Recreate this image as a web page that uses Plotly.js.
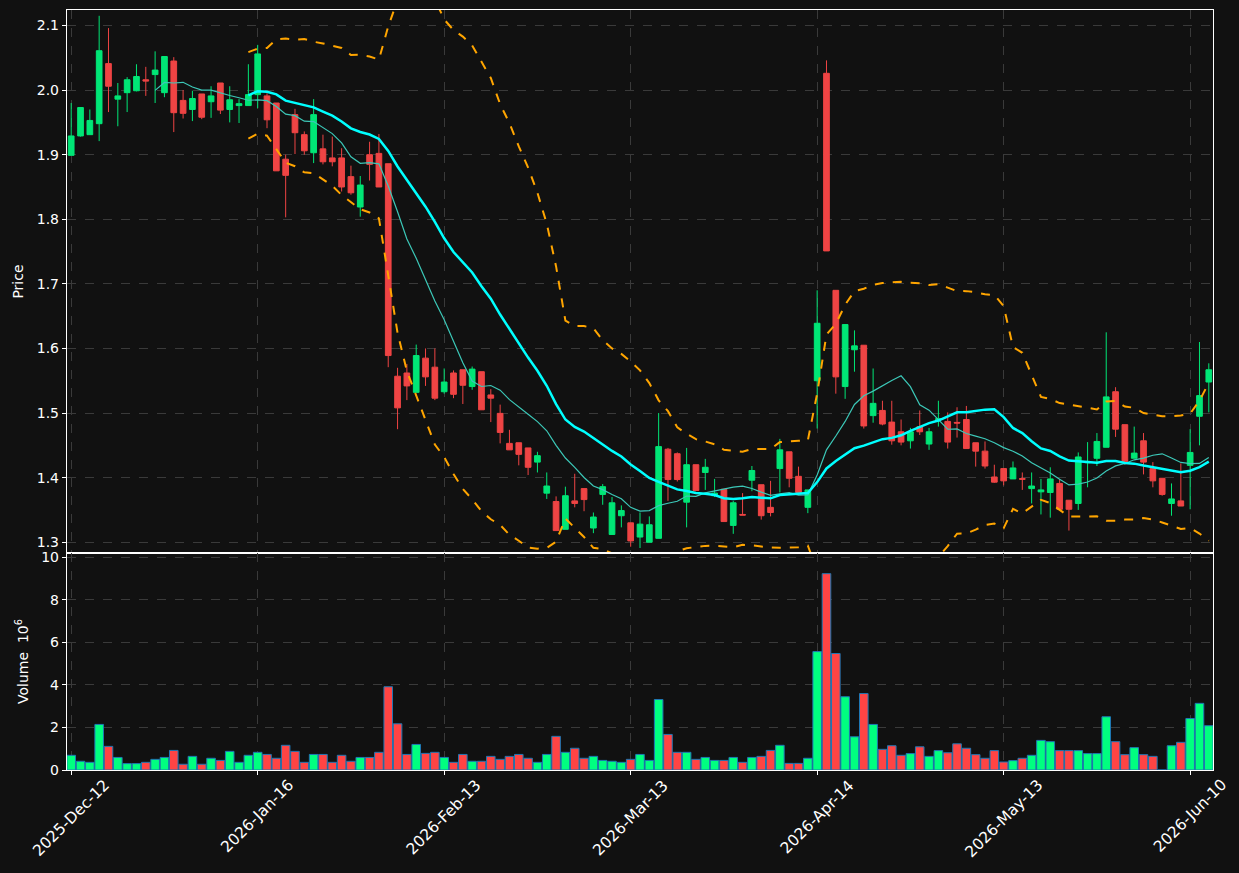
<!DOCTYPE html>
<html>
<head>
<meta charset="utf-8">
<script src="https://cdn.plot.ly/plotly-3.0.1.min.js"></script>
<style>
  html, body { margin: 0; padding: 0; background: #111111; }
  #chart { width: 1239px; height: 873px; }
</style>
</head>
<body>
<div id="chart"></div>
<script>
// ---- Data ----
const openP = [1.899,1.929,1.931,1.948,2.041,1.986,1.996,1.999,2.016,2.024,
  1.996,2.045,1.984,1.970,1.994,1.982,2.011,1.970,1.976,1.976,
  1.993,1.991,1.980,1.893,1.962,1.931,1.903,1.909,1.895,1.895,
  1.866,1.819,1.900,1.902,1.886,1.557,1.562,1.532,1.585,1.571,
  1.533,1.562,1.567,1.541,1.564,1.528,1.4995,1.453,1.454,1.446,
  1.424,1.376,1.363,1.320,1.364,1.383,1.322,1.374,1.312,1.341,
  1.330,1.308,1.300,1.306,1.444,1.437,1.362,1.420,1.408,1.372,
  1.382,1.326,1.343,1.396,1.389,1.354,1.414,1.440,1.402,1.354,
  1.550,2.026,1.690,1.541,1.598,1.605,1.496,1.504,1.486,1.471,
  1.457,1.479,1.452,1.490,1.487,1.4855,1.490,1.454,1.441,1.401,
  1.414,1.398,1.3985,1.383,1.378,1.377,1.391,1.365,1.360,1.423,
  1.430,1.447,1.533,1.482,1.430,1.457,1.414,1.399,1.360,1.364,
  1.419,1.495,1.548];
const highP = [1.980,1.973,1.970,2.115,2.096,2.011,2.020,2.040,2.036,2.060,
  2.052,2.051,2.000,1.999,1.994,2.006,2.011,2.006,1.986,2.040,
  2.070,1.995,1.980,1.900,1.971,1.936,1.986,1.931,1.928,1.910,
  1.883,1.867,1.920,1.932,1.886,1.570,1.576,1.606,1.600,1.600,
  1.569,1.566,1.567,1.572,1.564,1.537,1.513,1.474,1.454,1.446,
  1.440,1.408,1.371,1.386,1.406,1.383,1.346,1.390,1.370,1.357,
  1.330,1.346,1.340,1.500,1.446,1.439,1.446,1.420,1.429,1.398,
  1.382,1.364,1.376,1.418,1.389,1.395,1.460,1.440,1.417,1.381,
  1.690,2.046,1.690,1.637,1.628,1.605,1.569,1.519,1.519,1.490,
  1.477,1.504,1.477,1.519,1.501,1.509,1.511,1.454,1.456,1.420,
  1.414,1.425,1.408,1.408,1.398,1.416,1.398,1.365,1.439,1.455,
  1.469,1.625,1.540,1.482,1.479,1.469,1.424,1.399,1.391,1.422,
  1.475,1.610,1.577];
const lowP = [1.899,1.928,1.931,1.921,1.966,1.944,1.966,1.998,1.991,1.980,
  1.989,1.935,1.956,1.952,1.955,1.957,1.963,1.950,1.949,1.976,
  1.972,1.941,1.875,1.803,1.901,1.900,1.887,1.885,1.882,1.843,
  1.838,1.804,1.860,1.850,1.571,1.475,1.520,1.532,1.542,1.520,
  1.530,1.523,1.514,1.536,1.505,1.486,1.453,1.443,1.419,1.404,
  1.408,1.367,1.318,1.320,1.354,1.348,1.314,1.358,1.312,1.323,
  1.293,1.291,1.300,1.306,1.364,1.394,1.323,1.380,1.381,1.370,
  1.332,1.313,1.342,1.379,1.335,1.340,1.377,1.385,1.377,1.345,
  1.476,1.751,1.530,1.522,1.564,1.476,1.485,1.481,1.451,1.450,
  1.445,1.466,1.443,1.479,1.445,1.462,1.445,1.417,1.414,1.392,
  1.388,1.398,1.381,1.360,1.343,1.338,1.351,1.318,1.350,1.385,
  1.418,1.447,1.463,1.420,1.430,1.405,1.385,1.372,1.341,1.356,
  1.351,1.450,1.501];
const closeP = [1.929,1.973,1.953,2.061,2.006,1.991,2.016,2.021,2.014,2.031,
  2.052,1.965,1.964,1.987,1.958,1.991,1.969,1.985,1.979,1.993,
  2.056,1.954,1.875,1.868,1.934,1.906,1.962,1.889,1.889,1.850,
  1.841,1.853,1.885,1.850,1.589,1.508,1.542,1.589,1.556,1.523,
  1.548,1.529,1.543,1.568,1.505,1.523,1.470,1.443,1.436,1.416,
  1.434,1.387,1.318,1.372,1.360,1.366,1.339,1.386,1.361,1.349,
  1.302,1.328,1.327,1.448,1.397,1.397,1.420,1.380,1.416,1.376,
  1.332,1.361,1.342,1.411,1.341,1.346,1.443,1.399,1.377,1.381,
  1.639,1.751,1.556,1.637,1.604,1.480,1.515,1.483,1.457,1.455,
  1.471,1.471,1.471,1.491,1.455,1.4845,1.445,1.441,1.418,1.393,
  1.395,1.415,1.3975,1.387,1.381,1.398,1.351,1.351,1.432,1.425,
  1.456,1.525,1.475,1.425,1.438,1.424,1.395,1.374,1.367,1.356,
  1.439,1.527,1.567];
// volume in millions
const volumeM = [0.69,0.41,0.36,2.14,1.11,0.59,0.30,0.30,0.36,0.50,
  0.59,0.92,0.27,0.64,0.27,0.55,0.45,0.875,0.36,0.69,
  0.83,0.73,0.55,1.16,0.875,0.36,0.73,0.73,0.36,0.69,
  0.41,0.59,0.59,0.83,3.91,2.17,0.73,1.20,0.78,0.83,
  0.59,0.36,0.73,0.41,0.41,0.64,0.50,0.64,0.73,0.55,
  0.36,0.73,1.58,0.83,1.02,0.55,0.64,0.45,0.41,0.36,
  0.50,0.73,0.45,3.31,1.67,0.83,0.83,0.50,0.59,0.45,
  0.45,0.59,0.36,0.59,0.64,0.92,1.16,0.31,0.31,0.55,
  5.56,9.22,5.47,3.44,1.56,3.59,2.14,0.97,1.14,0.69,
  0.77,1.09,0.64,0.91,0.81,1.23,1.02,0.72,0.55,0.91,
  0.375,0.44,0.55,0.69,1.39,1.33,0.91,0.91,0.91,0.77,
  0.77,2.50,1.33,0.72,1.05,0.72,0.64,0.0,1.14,1.30,
  2.42,3.13,2.08];
const tickIndex = [0,20,40,60,80,100,120];
const tickLabels = ["2025-Dec-12","2026-Jan-16","2026-Feb-13","2026-Mar-13","2026-Apr-14","2026-May-13","2026-Jun-10"];

// ---- Derived indicators (computed from the closes) ----
const xs = closeP.map((_, i) => i);
function rollingMean(arr, w) {
  return arr.map((_, i) => {
    if (i < w - 1) return null;
    let s = 0; for (let k = i - w + 1; k <= i; k++) s += arr[k];
    return s / w;
  });
}
function rollingStd(arr, w) {
  return arr.map((_, i) => {
    if (i < w - 1) return null;
    let s = 0; for (let k = i - w + 1; k <= i; k++) s += arr[k];
    const m = s / w; let v = 0;
    for (let k = i - w + 1; k <= i; k++) v += (arr[k] - m) ** 2;
    return Math.sqrt(v / (w - 1));
  });
}
const ma10 = rollingMean(closeP, 10);
const ma20 = rollingMean(closeP, 20);
const sd20 = rollingStd(closeP, 20);
const bbUp = ma20.map((m, i) => m === null ? null : m + 2 * sd20[i]);
const bbLo = ma20.map((m, i) => m === null ? null : m - 2 * sd20[i]);
const volColors = closeP.map((c, i) => c >= openP[i] ? '#00ff80' : '#ff4444');

const UP = '#00e676', DOWN = '#ef4444';
const traces = [
  { type: 'candlestick', x: xs, open: openP, high: highP, low: lowP, close: closeP,
    xaxis: 'x', yaxis: 'y', whiskerwidth: 0,
    increasing: { line: { color: UP, width: 1 }, fillcolor: UP },
    decreasing: { line: { color: DOWN, width: 1 }, fillcolor: DOWN },
    showlegend: false, hoverinfo: 'skip' },
  { type: 'scatter', mode: 'lines', x: xs, y: ma10, xaxis: 'x', yaxis: 'y',
    line: { color: '#3cc8b8', width: 1.2 }, showlegend: false, hoverinfo: 'skip' },
  { type: 'scatter', mode: 'lines', x: xs, y: ma20, xaxis: 'x', yaxis: 'y',
    line: { color: '#00ffff', width: 2.5 }, showlegend: false, hoverinfo: 'skip' },
  { type: 'scatter', mode: 'lines', x: xs, y: bbUp, xaxis: 'x', yaxis: 'y',
    line: { color: '#ffa500', width: 2, dash: 'dash' }, showlegend: false, hoverinfo: 'skip' },
  { type: 'scatter', mode: 'lines', x: xs, y: bbLo, xaxis: 'x', yaxis: 'y',
    line: { color: '#ffa500', width: 2, dash: 'dash' }, showlegend: false, hoverinfo: 'skip' },
  { type: 'bar', x: xs, y: volumeM, xaxis: 'x2', yaxis: 'y2', width: 0.92,
    marker: { color: volColors, line: { color: '#1f77b4', width: 1 } },
    showlegend: false, hoverinfo: 'skip' }
];

const font = { family: 'DejaVu Sans, sans-serif', size: 14, color: '#ffffff' };
const gridCol = '#3a3a3a';
const split = (770 - 553) / 760;
const xr = [-0.45, 122.45];

// rotated date labels centred under each tick (as matplotlib does)
const dateAnnotations = tickIndex.map((ix, k) => ({
  x: ix, xref: 'x2', y: 0, yref: 'paper',
  text: tickLabels[k], showarrow: false, textangle: -45,
  xanchor: 'center', yanchor: 'top', yshift: -5, borderpad: 0,
  font: { family: 'DejaVu Sans, sans-serif', size: 15.5, color: '#ffffff' }
}));

const layout = {
  width: 1239, height: 873,
  paper_bgcolor: '#111111', plot_bgcolor: '#111111',
  font: font,
  margin: { l: 67, r: 26, t: 10, b: 103 },
  showlegend: false,
  boxgap: 0.39, boxgroupgap: 0,
  bargap: 0,
  annotations: dateAnnotations,
  xaxis: { domain: [0, 1], anchor: 'y', range: xr, tickvals: tickIndex,
    showticklabels: false, ticks: '', showgrid: true, gridcolor: gridCol, griddash: 'dash',
    zeroline: false, showline: true, mirror: true, linecolor: '#ffffff', linewidth: 1.2,
    rangeslider: { visible: false }, fixedrange: true },
  yaxis: { domain: [split, 1], anchor: 'x', range: [1.2833, 2.124], tickvals: [1.3,1.4,1.5,1.6,1.7,1.8,1.9,2.0,2.1],
    tickformat: '.1f', ticks: 'outside', ticklen: 4, tickcolor: '#ffffff',
    showgrid: true, gridcolor: gridCol, griddash: 'dash', zeroline: false,
    showline: true, mirror: true, linecolor: '#ffffff', linewidth: 1.2,
    title: { text: 'Price', font: font, standoff: 9 }, fixedrange: true },
  xaxis2: { domain: [0, 1], anchor: 'y2', range: xr, tickvals: tickIndex,
    showticklabels: false, ticks: 'outside', ticklen: 4, tickcolor: '#ffffff',
    showgrid: true, gridcolor: gridCol, griddash: 'dash', zeroline: false,
    showline: true, mirror: true, linecolor: '#ffffff', linewidth: 1.2, fixedrange: true },
  yaxis2: { domain: [0, split], anchor: 'x2', range: [0, 10.19], tickvals: [0,2,4,6,8,10],
    ticks: 'outside', ticklen: 4, tickcolor: '#ffffff',
    showgrid: true, gridcolor: gridCol, griddash: 'dash', zeroline: false,
    showline: true, mirror: true, linecolor: '#ffffff', linewidth: 1.2,
    title: { text: 'Volume  10<sup>6</sup>', font: font, standoff: 9 }, fixedrange: true }
};

Plotly.newPlot('chart', traces, layout, { staticPlot: true, displayModeBar: false });
</script>
</body>
</html>
